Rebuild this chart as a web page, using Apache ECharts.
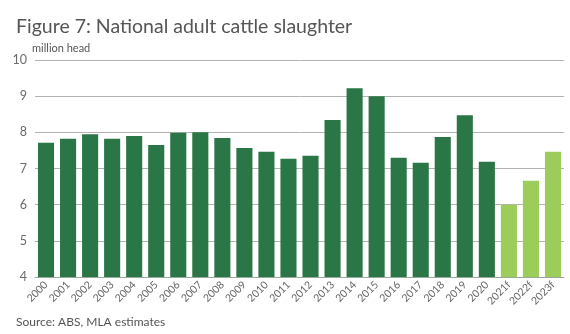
<!DOCTYPE html>
<html>
<head>
<meta charset="utf-8">
<script src="https://cdn.jsdelivr.net/npm/echarts@6/dist/echarts.min.js"></script>
<style>
  html, body { margin: 0; padding: 0; background: #fff; }
  #chart { width: 570px; height: 334px; }
</style>
</head>
<body>
<div id="chart"></div>
<script>
// Adult cattle slaughter, million head (f = forecast)
const years = ['2000','2001','2002','2003','2004','2005','2006','2007','2008','2009','2010','2011',
               '2012','2013','2014','2015','2016','2017','2018','2019','2020','2021f','2022f','2023f'];
const slaughter = [7.71, 7.82, 7.95, 7.82, 7.90, 7.65, 7.99, 8.00, 7.84, 7.57, 7.46, 7.27,
                   7.35, 8.34, 9.22, 9.00, 7.30, 7.16, 7.87, 8.47, 7.19, 6.00, 6.66, 7.46];
const forecast = [false, false, false, false, false, false, false, false, false, false, false, false,
                  false, false, false, false, false, false, false, false, false, true, true, true];

const ACTUAL = '#2b7647';
const FORECAST = '#9ccd5b';
const FONT = 'Lato, "Open Sans", sans-serif';

const chart = echarts.init(document.getElementById('chart'), null, { renderer: 'canvas' });
chart.setOption({
  animation: false,
  backgroundColor: '#fff',
  title: [
    {
      text: 'Figure 7: National adult cattle slaughter',
      left: 11, top: 12,
      textStyle: { fontFamily: FONT, fontSize: 19.5, fontWeight: 'normal', color: '#555' }
    },
    {
      text: 'Source: ABS, MLA estimates',
      left: 11, top: 311,
      textStyle: { fontFamily: FONT, fontSize: 12, fontWeight: 'normal', color: '#555' }
    }
  ],
  grid: { left: 35, right: 6, top: 60, bottom: 57 },
  xAxis: {
    type: 'category',
    data: years,
    axisLine: { show: true, lineStyle: { color: '#9aa89c', width: 1 } },
    axisTick: { show: false },
    axisLabel: {
      rotate: 45, interval: 0, margin: 6,
      fontFamily: FONT, fontSize: 10.5, color: '#666'
    }
  },
  yAxis: {
    type: 'value',
    min: 4, max: 10, interval: 1,
    name: 'million head',
    nameLocation: 'end',
    nameGap: 4,
    nameTextStyle: { fontFamily: FONT, fontSize: 11, color: '#555', align: 'left', padding: [0, 0, 0, -3] },
    axisLine: { show: false },
    axisTick: { show: false },
    axisLabel: { fontFamily: FONT, fontSize: 12.5, color: '#6a6a6a', margin: 8 },
    splitLine: { lineStyle: { color: '#b3b3b3', width: 1 } }
  },
  series: [{
    type: 'bar',
    data: slaughter.map((v, i) => ({
      value: v,
      itemStyle: { color: forecast[i] ? FORECAST : ACTUAL }
    })),
    barCategoryGap: '27%'
  }]
});
</script>
</body>
</html>
